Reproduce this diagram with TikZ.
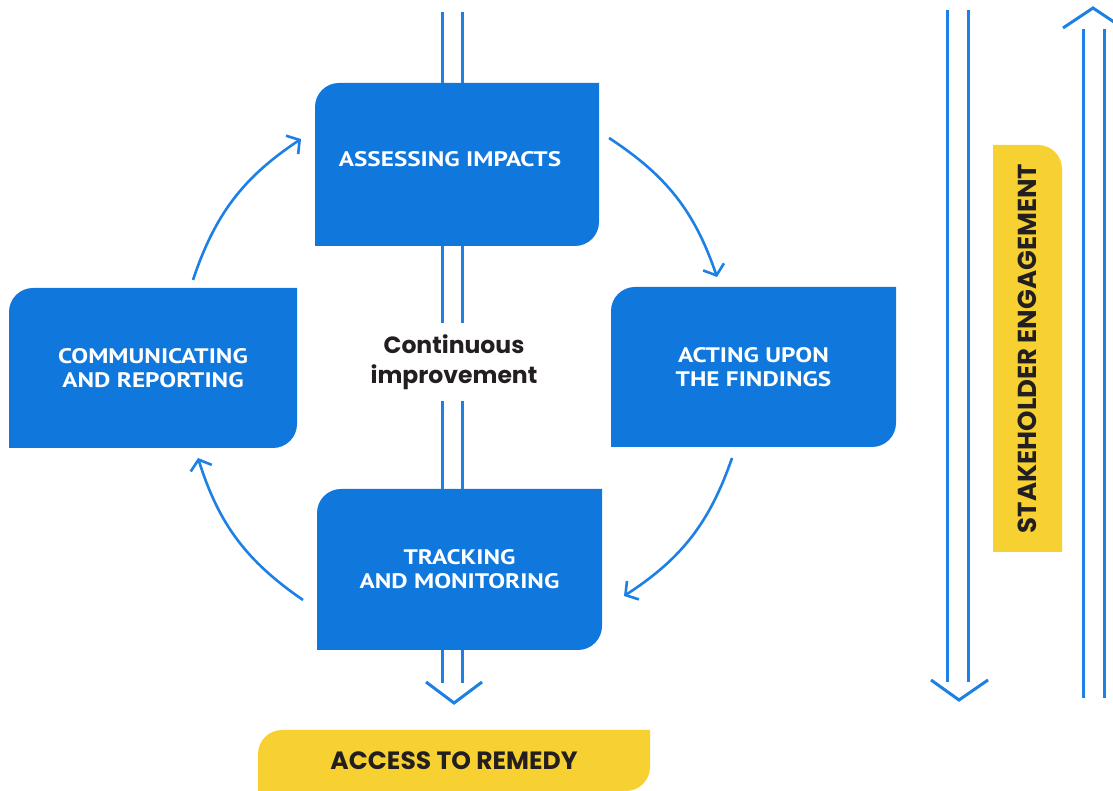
\documentclass[tikz,border=0pt]{standalone}
\usepackage{fontspec}
\setmainfont{PT Sans}
\newfontfamily\boxfont[FakeStretch=1.2]{PT Sans}
\newfontfamily\geofont{Poppins}
\usetikzlibrary{arrows.meta}
\definecolor{bblue}{RGB}{16,119,220}
\definecolor{lblue}{RGB}{28,128,228}
\definecolor{byellow}{RGB}{247,209,50}
\definecolor{dtext}{RGB}{35,31,32}
\begin{document}
\begin{tikzpicture}[x=1pt,y=1pt,
  tlbr/.style={path picture={
    \fill[#1] (path picture bounding box.south west)
      -- ([yshift=-24pt]path picture bounding box.north west)
      arc[start angle=180,end angle=90,radius=24pt]
      -- (path picture bounding box.north east)
      -- ([yshift=24pt]path picture bounding box.south east)
      arc[start angle=0,end angle=-90,radius=24pt] -- cycle;}},
  tronly/.style={path picture={
    \fill[#1] (path picture bounding box.south west)
      -- (path picture bounding box.north west)
      -- ([xshift=-24pt]path picture bounding box.north east)
      arc[start angle=90,end angle=0,radius=24pt]
      -- (path picture bounding box.south east) -- cycle;}},
  bluebox/.style={tlbr=bblue, inner sep=0pt, text=white, align=center,
    font=\boxfont\bfseries\fontsize{21}{24}\selectfont},
  yelbox/.style={inner sep=0pt, text=dtext, align=center,
    font=\geofont\bfseries\fontsize{25}{28}\selectfont},
  dline/.style={lblue, line width=3pt},
  vtip/.style={lblue, line width=3pt, line join=miter},
  cyc/.style={lblue, line width=2.6pt, bend left=19,
    -{Straight Barb[length=9pt,width=22pt]}}
]
\useasboundingbox (0,0) rectangle (1113,791);

% boxes
\node[bluebox, minimum width=284pt, minimum height=163pt, text depth=11pt] (assess) at (457,626.5) {ASSESSING IMPACTS\hspace*{14pt}};
\node[bluebox, minimum width=288pt, minimum height=160pt] (comm) at (153,423) {COMMUNICATING\\AND REPORTING};
\node[bluebox, minimum width=285pt, minimum height=160pt] (act) at (753.5,424) {ACTING UPON\\THE FINDINGS};
\node[bluebox, minimum width=285pt, minimum height=161pt] (track) at (459.5,221.5) {TRACKING\\AND MONITORING};
\node[inner sep=0pt, minimum height=78pt, align=center, text=dtext,
  font=\geofont\bfseries\fontsize{23.5}{30}\selectfont] (cont) at (454,429) {Continuous\\improvement};

\node[yelbox, tlbr=byellow, minimum width=392pt, minimum height=61pt] (remedy) at (454,30.5) {ACCESS TO REMEDY};
\node[tronly=byellow, inner sep=0pt, minimum width=69pt, minimum height=407pt] (stake) at (1027.5,442.5) {};
\node[yelbox, rotate=90, font=\geofont\bfseries\fontsize{26}{28}\selectfont] (staketext) at (stake.center) {STAKEHOLDER ENGAGEMENT};

% central double arrow
\coordinate (ctop) at (452,779);
\coordinate (cbot) at (452,108);
\coordinate (ctip) at (454,88);
\foreach \s in {-10,10}{
  \draw[dline] ([xshift=\s pt]ctop) -- ([xshift=\s pt]ctop |- assess.north);
  \draw[dline] ([xshift=\s pt]ctop |- assess.south) -- ([xshift=\s pt]ctop |- cont.north);
  \draw[dline] ([xshift=\s pt]ctop |- cont.south) -- ([xshift=\s pt]ctop |- track.north);
  \draw[dline] ([xshift=\s pt]ctop |- track.south) -- ([xshift=\s pt]cbot);
}
\draw[vtip] ([shift={(-28pt,21pt)}]ctip) -- (ctip) -- ([shift={(28pt,21pt)}]ctip);

% right double arrows
\coordinate (dtop) at (957.5,781);
\coordinate (dbot) at (957.5,109);
\coordinate (dtip) at (959,91);
\foreach \s in {-10.5,10.5}{
  \draw[dline] ([xshift=\s pt]dtop) -- ([xshift=\s pt]dbot);
}
\draw[vtip] ([shift={(-28pt,20pt)}]dtip) -- (dtip) -- ([shift={(29pt,20pt)}]dtip);

\coordinate (utop) at (1093.5,762);
\coordinate (ubot) at (1093.5,93);
\coordinate (utip) at (1093,783);
\foreach \s in {-10.5,10.5}{
  \draw[dline] ([xshift=\s pt]ubot) -- ([xshift=\s pt]utop);
}
\draw[vtip] ([shift={(-30pt,-20pt)}]utip) -- (utip) -- ([shift={(30pt,-20pt)}]utip);

% cycle arrows
\coordinate (c1s) at (193,511);
\coordinate (c1e) at (301,652);
\coordinate (c2s) at (609,653);
\coordinate (c2e) at (717,514);
\coordinate (c3s) at (732,333);
\coordinate (c3e) at (624,195);
\coordinate (c4s) at (303,191);
\coordinate (c4e) at (198,333);
\draw[cyc] (c1s) to (c1e);
\draw[cyc] (c2s) to (c2e);
\draw[cyc] (c3s) to (c3e);
\draw[cyc] (c4s) to (c4e);
\end{tikzpicture}
\end{document}
